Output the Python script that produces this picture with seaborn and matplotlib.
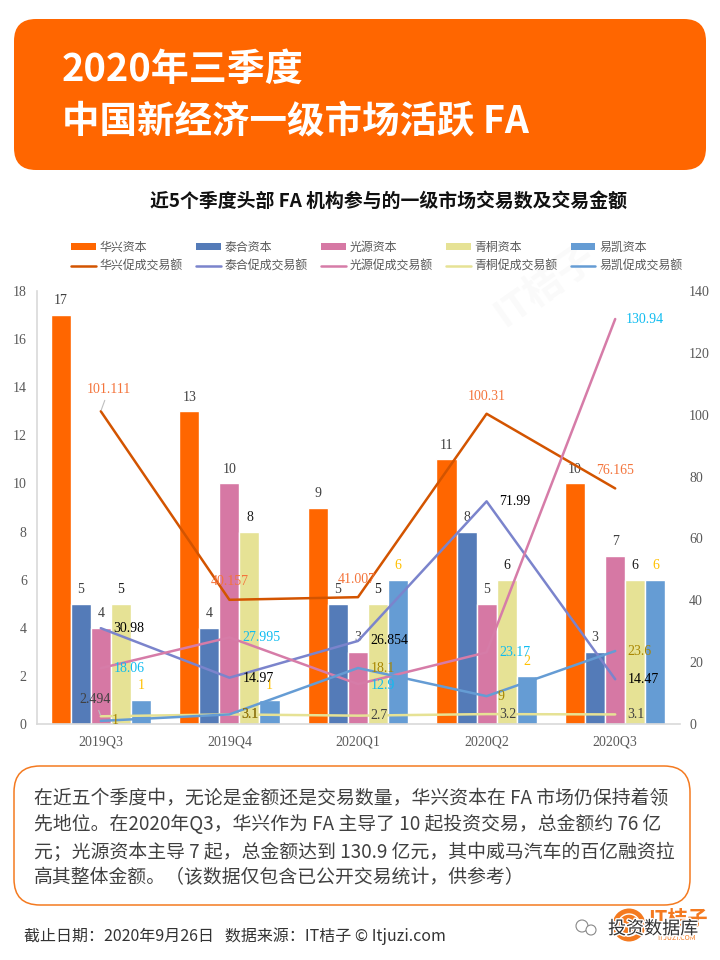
import matplotlib
matplotlib.use("Agg")
import matplotlib.pyplot as plt
import matplotlib.patheffects as pe
from matplotlib.patches import FancyBboxPatch, Circle, Wedge, Patch
from matplotlib.lines import Line2D
import pandas as pd
import seaborn as sns

quarters = ["2019Q3", "2019Q4", "2020Q1", "2020Q2", "2020Q3"]
firms = ["华兴资本", "泰合资本", "光源资本", "青桐资本", "易凯资本"]
line_names = ["华兴促成交易额", "泰合促成交易额", "光源促成交易额", "青桐促成交易额", "易凯促成交易额"]

deals_huaxing = [17, 13, 9, 11, 10]
deals_taihe = [5, 4, 5, 8, 3]
deals_guangyuan = [4, 10, 3, 5, 7]
deals_qingtong = [5, 8, 5, 6, 6]
deals_yikai = [1, 1, 6, 2, 6]

amt_huaxing = [101.111, 40.157, 41.007, 100.31, 76.165]
amt_taihe = [30.98, 14.97, 26.854, 71.99, 14.47]
amt_guangyuan = [18.06, 27.995, 12.9, 23.17, 130.94]
amt_qingtong = [2.494, 3.1, 2.7, 3.2, 3.1]
amt_yikai = [1, 3.1, 18.1, 9, 23.6]

bar_colors = ["#ff6600", "#547bb8", "#d678a4", "#e6e295", "#659cd4"]
line_colors = ["#d35400", "#7b84cc", "#d67ca8", "#e6e295", "#659cd4"]
bar_label_colors = ["#404040", "#404040", "#404040", "#1a1a1a", "#ffc000"]
amt_label_colors = ["#f4743b", "#000000", "#0fbcf0", "#404040", "#a88600"]

# label offsets from each line point, in pixels (right, up)
amt_offsets = [
    [(8, 22), (0, 18), (-1, 18), (0, 17), (0, 18)],
    [(28, 0), (29, -1), (31, 0), (28, 0), (28, 0)],
    [(28, 0), (32, 0), (25, -1), (28, 0), (30, 0)],
    [(-6, 17), (20, 0), (21, 0), (21, 0), (21, 0)],
    [(14, 0), (20, 0), (25, 0), (14, 0), (24, 0)],
]

sns.set_theme(style="white")
plt.rcParams["font.family"] = ["Noto Sans CJK SC", "DejaVu Sans"]
W, H = 720, 960
SERIF = ["Liberation Serif", "DejaVu Serif"]
PX = 0.72

fig = plt.figure(figsize=(W / 100, H / 100), dpi=100, facecolor="white")

# page layer in pixel coordinates
bg = fig.add_axes([0, 0, 1, 1], zorder=0)
bg.set_xlim(0, W)
bg.set_ylim(H, 0)
bg.axis("off")
bg.add_patch(FancyBboxPatch((14, 19), 692, 151, boxstyle="round,pad=0,rounding_size=22",
                            fc="#ff6600", ec="none"))
bg.add_patch(FancyBboxPatch((14, 766), 676, 139, boxstyle="round,pad=0,rounding_size=26",
                            fc="white", ec="#f47a20", lw=1.1))
bg.text(62, 69, "2020年三季度", color="white", fontsize=27.4, fontweight="bold", va="center")
bg.text(62, 122, "中国新经济一级市场活跃 FA", color="white", fontsize=27, fontweight="bold", va="center")
bg.text(388, 201, "近5个季度头部 FA 机构参与的一级市场交易数及交易金额", color="#111111",
        fontsize=13.6, fontweight="bold", ha="center", va="center")
body_lines = [
    "在近五个季度中，无论是金额还是交易数量，华兴资本在 FA 市场仍保持着领",
    "先地位。在2020年Q3，华兴作为 FA 主导了 10 起投资交易，总金额约 76 亿",
    "元；光源资本主导 7 起，总金额达到 130.9 亿元，其中威马汽车的百亿融资拉",
    "高其整体金额。（该数据仅包含已公开交易统计，供参考）",
]
for y, s in zip([798, 825, 852, 878], body_lines):
    bg.text(34, y, s, color="#404040", fontsize=13.55, va="center")
bg.text(24, 936, "截止日期：2020年9月26日   数据来源：IT桔子 © Itjuzi.com", color="#333333",
        fontsize=11.5, va="center")

# chart
left, right, top, bottom = 36.5, 679.5, 291, 724
ax = fig.add_axes([left / W, 1 - bottom / H, (right - left) / W, (bottom - top) / H], zorder=1)
ax.patch.set_alpha(0)
deals = [deals_huaxing, deals_taihe, deals_guangyuan, deals_qingtong, deals_yikai]
amounts = [amt_huaxing, amt_taihe, amt_guangyuan, amt_qingtong, amt_yikai]
df = pd.DataFrame([
    {"季度": q, "机构": f, "交易数": v}
    for f, series in zip(firms, deals) for q, v in zip(quarters, series)
])
sns.barplot(data=df, x="季度", y="交易数", hue="机构", order=quarters, hue_order=firms,
            palette=bar_colors, width=0.78, gap=0, saturation=1, legend=False, ax=ax)
ax.set_xlim(-0.5, 4.5)
ax.set_ylim(0, 18)
ax.set_yticks(range(0, 19, 2))
ax.set_xlabel("")
ax.set_ylabel("")
for sp in ["top", "right"]:
    ax.spines[sp].set_visible(False)
for sp in ["left", "bottom"]:
    ax.spines[sp].set_color("#d9d9d9")
    ax.spines[sp].set_linewidth(1.2)
ax.tick_params(axis="y", length=0, pad=7, labelcolor="#595959", labelsize=10)
ax.tick_params(axis="x", length=0, pad=8, labelcolor="#595959", labelsize=10)
for t in ax.get_xticklabels() + ax.get_yticklabels():
    t.set_family(SERIF)

for cont, color in zip(ax.containers, bar_label_colors):
    ax.bar_label(cont, padding=5.5, color=color, fontsize=10, family=SERIF)

ax2 = ax.twinx()
ax2.set_zorder(2)
ax2.patch.set_alpha(0)
for series, name, color in zip(amounts, line_names, line_colors):
    sns.lineplot(x=list(range(len(quarters))), y=series, color=color, lw=1.8, ax=ax2, legend=False,
                 errorbar=None)
ax2.set_ylim(0, 140)
ax2.set_yticks(range(0, 141, 20))
ax2.set_ylabel("")
ax2.grid(False)
ax2.tick_params(axis="y", length=0, pad=7, labelcolor="#595959", labelsize=10)
for t in ax2.get_yticklabels():
    t.set_family(SERIF)
for sp in ax2.spines.values():
    sp.set_visible(False)

for s_i, (series, offs, color) in enumerate(zip(amounts, amt_offsets, amt_label_colors)):
    for i, (v, (dx, dy)) in enumerate(zip(series, offs)):
        leader = dict(arrowstyle="-", color="#bfbfbf", lw=0.8, shrinkA=1, shrinkB=1) if (i == 0 and s_i in (0, 3)) else None
        ax2.annotate(f"{v:g}", (i, v), xytext=(dx * PX, dy * PX), textcoords="offset points",
                     ha="center", va="center", color=color, fontsize=10, family=SERIF,
                     arrowprops=leader)

# legend
handles = []
labels = []
for f, n, bc, lc in zip(firms, line_names, bar_colors, line_colors):
    handles += [Patch(fc=bc, ec="none"), Line2D([], [], color=lc, lw=1.8)]
    labels += [f, n]
fig.legend(handles, labels, ncol=5, loc="center left", bbox_to_anchor=(71 / W, 1 - 256.5 / H),
           frameon=False, fontsize=8.6, labelcolor="#595959", handlelength=2.07, handleheight=0.5,
           handletextpad=0.34, columnspacing=1.09, labelspacing=0.5, borderpad=0, borderaxespad=0)

# footer logo and faint watermark
top_layer = fig.add_axes([0, 0, 1, 1], zorder=3)
top_layer.set_xlim(0, W)
top_layer.set_ylim(H, 0)
top_layer.axis("off")
top_layer.text(545, 285, "IT桔子", color="#dddddd", alpha=0.15, fontsize=28, fontweight="bold",
               rotation=35, ha="center", va="center")
top_layer.add_patch(Circle((629, 925), 16.5, fc="#f47a20", ec="none"))
top_layer.add_patch(Circle((629, 925), 11, fc="none", ec="white", lw=1))
top_layer.text(678, 918, "IT桔子", color="#f47a20", fontsize=14.5, fontweight="bold", ha="center", va="center")
top_layer.text(677, 938, "ITJUZI.COM", color="#f47a20", fontsize=5, ha="center", va="center")
top_layer.text(653, 929, "投资数据库", color="#333333", fontsize=13, ha="center", va="center",
               path_effects=[pe.withStroke(linewidth=2, foreground="white")])
top_layer.add_patch(Circle((582, 926), 6, fc="white", ec="#888888", lw=0.8))
top_layer.add_patch(Circle((591, 930), 5, fc="white", ec="#888888", lw=0.8))

fig.savefig("out.png", dpi=100)
